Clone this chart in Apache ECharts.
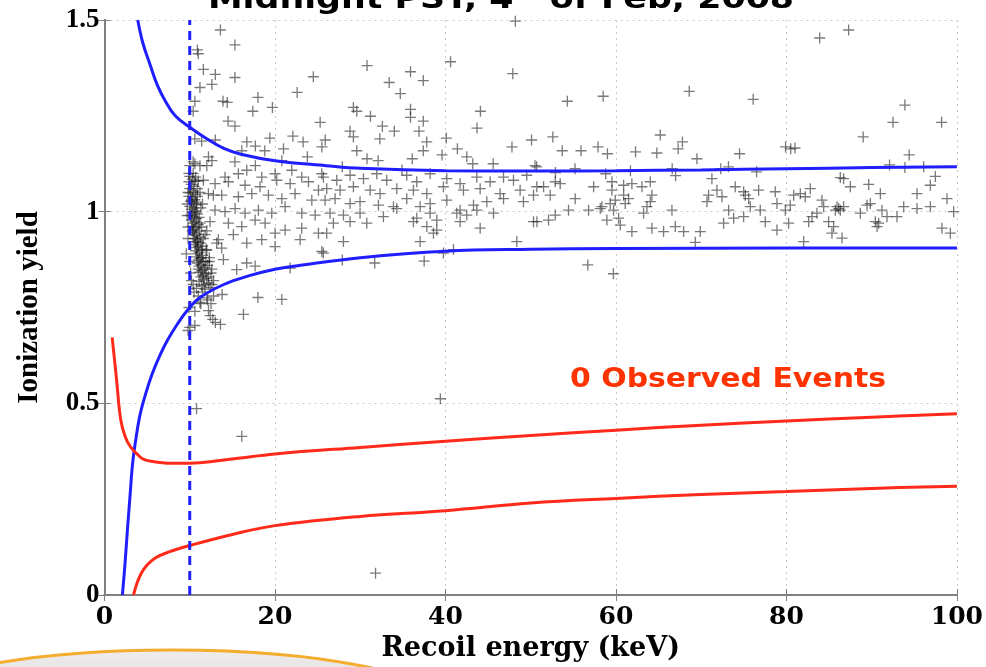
<!DOCTYPE html>
<html><head><meta charset="utf-8">
<script src="https://cdn.jsdelivr.net/npm/echarts@6/dist/echarts.min.js"></script>
<style>html,body{margin:0;padding:0;background:#fff;overflow:hidden}#c{width:986px;height:667px}</style>
</head><body><div id="c"></div>
<script>
// ---- data ----
const titleMain = 'Midnight PST, 4';
const titleSup = 'th';
const titleRest = ' of Feb, 2008';
const annotation = '0 Observed Events';
const xName = 'Recoil energy (keV)';
const yName = 'Ionization yield';
const xTicks = [0, 20, 40, 60, 80, 100];
const yTicks = [0, 0.5, 1, 1.5];
const thresholdX = 10;

const upperBlueX = [3.9,4.5,5.4,6.2,7.1,8.3,10,12,14,16,20,26,30,40,50,60,70,80,90,100];
const upperBlueY = [1.5,1.44,1.38,1.33,1.29,1.25,1.22,1.19,1.165,1.15,1.133,1.12,1.113,1.107,1.106,1.107,1.109,1.112,1.115,1.117];
const lowerBlueX = [2.1,2.4,2.7,3.0,3.3,3.7,4.2,4.9,5.6,6.5,7.4,8.5,9.7,11.2,14,17,20,23,30,40,50,60,80,100];
const lowerBlueY = [0,0.08,0.173,0.26,0.344,0.41,0.473,0.53,0.577,0.625,0.665,0.705,0.742,0.776,0.81,0.833,0.85,0.86,0.88,0.897,0.902,0.904,0.905,0.905];
const upperRedX = [0.9,1.4,1.9,2.4,3.0,3.8,4.6,6,7.4,10,15,20,30,40,50,60,70,80,90,100];
const upperRedY = [0.672,0.565,0.458,0.415,0.388,0.368,0.354,0.347,0.344,0.344,0.355,0.368,0.385,0.401,0.416,0.43,0.443,0.454,0.464,0.473];
const lowerRedX = [3.4,3.8,4.3,5,6,7.4,10,15,20,30,40,50,60,70,80,90,100];
const lowerRedY = [0,0.03,0.056,0.078,0.097,0.111,0.129,0.158,0.181,0.205,0.22,0.24,0.252,0.262,0.27,0.278,0.284];

// events just above threshold: dense band near 10-12 keV
const bandEvents = [
[10.0,1.092],[10.3,1.085],[9.9,1.078],[10.2,1.071],[10.5,1.066],[10.0,1.060],[10.4,1.054],[10.1,1.049],[10.7,1.045],[9.9,1.040],
[10.3,1.036],[10.6,1.031],[10.1,1.027],[10.4,1.022],[10.8,1.018],[10.0,1.014],[10.5,1.010],[10.2,1.006],[10.7,1.002],[10.3,0.998],
[10.9,0.994],[10.1,0.990],[10.5,0.986],[10.8,0.982],[10.2,0.978],[10.6,0.974],[10.4,0.970],[11.0,0.966],[10.3,0.962],[10.7,0.958],
[10.5,0.954],[11.1,0.950],[10.4,0.946],[10.8,0.942],[10.6,0.938],[11.2,0.934],[10.5,0.930],[10.9,0.926],[10.7,0.922],[11.3,0.918],
[10.6,0.914],[11.0,0.910],[10.8,0.906],[11.4,0.902],[10.7,0.898],[11.1,0.894],[10.9,0.890],[11.5,0.886],[10.8,0.882],[11.2,0.878],
[11.0,0.874],[11.6,0.870],[10.9,0.866],[11.3,0.862],[11.1,0.858],[11.8,0.854],[11.0,0.850],[11.4,0.846],[11.2,0.842],[11.9,0.838],
[11.5,0.834],[11.3,0.830],[12.0,0.826],[11.6,0.822],[11.1,0.818],[12.2,0.814],[11.7,0.810],[11.4,0.806],[12.4,0.802],[11.8,0.798],
[10.2,1.03],[10.6,1.0],[10.3,0.95],[10.9,0.92],[11.4,0.88],[11.7,0.85],[12.1,0.86],[12.5,0.84],[12.3,0.88],[11.9,0.9],
[11.6,0.93],[11.2,0.97],[10.9,1.04],[11.3,1.01],[12.0,0.95],[12.6,0.81],[12.8,0.78],[11.0,0.78],[10.5,0.79],[10.2,0.82],
[9.8,0.96],[9.7,1.02],[9.6,0.89],[12.1,0.77],[12.5,0.76],[10.0,1.12],[10.4,1.13],[9.9,1.10],[11.6,1.082],[12.77,1.043],
[12.38,0.974],[13.16,0.918],[13.75,0.905],
[10.6,1.08],[10.9,1.06],[11.2,1.05],[10.8,1.025],[11.5,1.02],[11.1,0.985],[11.4,0.96],[11.8,0.94],[11.5,0.91],[12.0,0.9],
[12.3,0.87],[11.9,0.87],[12.6,0.85],[12.2,0.83],[12.8,0.82],[10.4,1.1],[10.7,1.09],[11.0,1.08],[9.8,1.05],[9.7,0.99],
[9.8,0.93],[10.0,0.87],[10.1,0.84],[10.4,0.81],[10.8,0.8],[11.5,0.79],[12.0,0.775],[11.3,0.76],[9.9,0.75],[10.6,0.74]
];

const leftEvents = [
[13.6,1.474],[15.3,1.435],[10.9,1.422],[11.0,1.412],[11.6,1.371],[13.0,1.358],[12.6,1.332],[15.3,1.35],[11.2,1.324],[24.5,1.352],
[22.6,1.311],[18.0,1.298],[13.9,1.288],[14.4,1.285],[10.6,1.288],[10.4,1.262],[17.4,1.262],[19.7,1.272],[14.5,1.236],[15.3,1.223],
[25.3,1.233],[10.6,1.19],[11.4,1.184],[13.0,1.187],[16.7,1.182],[17.7,1.171],[19.4,1.192],[21.0,1.164],[22.1,1.197],[23.3,1.182],
[25.5,1.169],[18.8,1.159],[16.1,1.159],[12.2,1.143],[12.6,1.133],[15.3,1.13],[17.7,1.12],[10.6,1.125],[11.2,1.12],[12.0,1.12],
[23.8,1.143],[20.8,1.133],
[14.14,1.090],[15.71,1.099],[16.69,1.108],[18.45,1.090],[20.01,1.099],[21.97,1.108],[23.14,1.090],[25.49,1.099],[12.97,1.073],[14.54,1.078],
[16.49,1.069],[18.25,1.065],[20.21,1.082],[21.78,1.073],[23.93,1.078],[25.10,1.056],[12.19,1.047],[13.75,1.043],[15.71,1.039],[17.28,1.047],
[19.23,1.043],[20.80,1.034],[22.36,1.047],[24.32,1.030],[12.97,1.004],[14.14,1.000],[15.32,1.008],[16.49,0.996],[18.06,1.004],[19.62,0.996],
[21.19,1.013],[23.14,0.996],[24.71,0.991],[14.54,0.970],[16.10,0.961],[17.67,0.978],[18.84,0.970],[20.01,0.944],[21.19,0.952],[23.14,0.957],
[25.10,0.944],[13.36,0.927],[15.12,0.940],[16.69,0.918],[18.45,0.927],[20.01,0.909],[22.95,0.927],[25.49,0.896],[13.95,0.875],[15.51,0.849],
[16.69,0.866],[17.67,0.858],[21.78,0.853],
[13.8,0.784],[18.0,0.776],[20.8,0.771],[16.3,0.732],[12.2,0.742],[12.7,0.719],[13.6,0.706],[10.6,0.703],[10.0,0.698],[11.2,0.763],
[12.4,0.729],[13.0,0.711],[9.8,0.69],[10.8,0.486],[16.1,0.414],[31.8,0.057]
];

const midEvents = [
[48.2,1.497],[40.6,1.391],[47.9,1.36],[30.8,1.381],[35.9,1.365],[37.4,1.342],[33.4,1.337],[34.7,1.308],[29.2,1.272],[29.6,1.262],
[31.2,1.249],[35.9,1.267],[35.9,1.246],[37.4,1.236],[32.6,1.223],[34.0,1.21],[28.8,1.21],[29.2,1.195],[32.3,1.19],[36.9,1.21],
[37.8,1.182],[44.1,1.262],[43.7,1.218],[40.1,1.192],[47.8,1.169],[50.1,1.187],[25.9,1.187],[29.6,1.159],[37.4,1.159],[39.6,1.148],
[41.4,1.164],[42.5,1.143],[30.8,1.138],[32.1,1.133],[36.1,1.138],[43.2,1.125],[45.6,1.125],[50.5,1.12],[27.9,1.117],[34.9,1.109],
[27.9,0.874],[31.7,0.866],[37.5,0.871],[39.4,0.512],
[25.68,1.090],[27.25,1.082],[28.81,1.095],[30.38,1.086],[31.94,1.099],[33.11,1.082],[35.46,1.095],[36.63,1.078],[38.20,1.099],[40.16,1.086],
[41.72,1.073],[43.68,1.090],[45.24,1.078],[46.81,1.090],[47.98,1.082],[49.54,1.095],[50.72,1.065],[26.07,1.060],[27.64,1.056],[29.20,1.065],
[31.16,1.056],[32.33,1.047],[34.29,1.060],[36.24,1.056],[37.81,1.047],[39.76,1.065],[42.11,1.056],[44.07,1.060],[46.41,1.047],[48.76,1.056],
[50.33,1.043],[25.88,1.030],[27.05,1.034],[28.81,1.021],[29.98,1.026],[32.14,1.017],[33.90,1.013],[35.46,1.034],[37.03,1.013],[38.20,1.021],
[40.16,1.030],[41.72,1.004],[43.29,1.017],[44.85,1.026],[46.81,1.034],[49.15,1.026],[26.46,0.996],[28.03,0.991],[29.98,0.996],[32.72,0.987],
[34.29,1.008],[36.63,0.983],[38.20,0.996],[38.98,0.978],[41.33,0.996],[42.50,0.991],[43.68,1.004],[45.63,0.996],[50.33,0.974],[26.85,0.970],
[28.81,0.974],[30.77,0.970],[36.24,0.974],[37.81,0.961],[38.98,0.952],[41.72,0.974],[44.07,0.957],[26.07,0.944],[28.03,0.922],[25.68,0.892],
[37.03,0.922],[38.59,0.944],[48.37,0.922],[40.94,0.901],[39.76,0.892]
];

const rightEvents = [
[54.3,1.288],[58.5,1.301],[68.6,1.314],[76.1,1.293],[52.6,1.195],[53.7,1.159],[55.9,1.159],[57.9,1.169],[59.0,1.151],[62.3,1.156],
[64.8,1.153],[65.2,1.2],[67.8,1.182],[67.3,1.164],[69.5,1.138],[74.5,1.151],[50.7,1.117],[52.9,1.102],[55.2,1.112],[58.8,1.099],
[61.7,1.107],[66.6,1.112],[67.0,1.094],[72.3,1.112],[73.2,1.117],[56.7,0.861],[59.7,0.838],
[83.9,1.453],[87.3,1.474],[93.9,1.278],[92.5,1.233],[98.2,1.233],[89.0,1.195],[79.9,1.169],[80.5,1.164],[81.0,1.166],[94.4,1.148],
[92.1,1.122],[93.9,1.115],[96.1,1.117],[76.5,1.104],
[51.51,1.065],[52.88,1.078],[53.46,1.073],[52.29,1.043],[55.22,1.034],[57.38,1.065],[59.53,1.078],[60.90,1.069],[61.87,1.073],[63.05,1.065],
[64.03,1.078],[59.53,1.056],[60.90,1.043],[61.48,1.034],[64.22,1.043],[64.03,1.026],[63.64,1.013],[63.24,0.996],[66.57,1.004],[61.09,1.021],
[59.92,1.030],[59.33,1.021],[58.35,1.013],[58.16,1.008],[56.79,1.004],[54.44,1.004],[52.88,0.991],[52.09,0.978],[50.73,0.974],[59.72,1.004],
[60.31,0.983],[58.94,0.978],[60.51,0.965],[61.87,0.948],[64.22,0.957],[65.59,0.948],[66.96,0.961],[67.94,0.948],[69.89,0.948],[69.31,0.920],
[71.26,1.086],[71.85,1.056],[70.87,1.043],[70.68,1.026],[72.44,1.039],[74.00,1.065],[74.98,1.052],[75.57,1.034],[73.22,1.004],[73.81,0.983],
[74.98,0.987],[72.63,0.970],[75.18,1.043],
[86.32,1.089],[86.71,1.086],[87.50,1.065],[89.65,1.071],[97.47,1.092],[96.88,1.069],[95.32,1.047],[76.74,1.056],[78.69,1.052],[80.85,1.043],
[81.63,1.047],[82.80,1.060],[82.21,1.039],[91.02,1.047],[98.84,1.034],[75.76,1.013],[76.93,1.004],[78.89,1.021],[80.45,1.017],[79.87,1.004],
[84.17,1.030],[84.37,1.013],[83.58,0.996],[83.00,0.987],[86.13,1.008],[86.71,1.013],[85.74,1.004],[88.67,0.996],[89.84,1.021],[89.45,1.017],
[91.21,1.004],[91.80,0.987],[93.76,1.013],[92.97,0.987],[95.32,1.008],[96.88,1.013],[77.52,0.974],[78.89,0.952],[80.26,0.970],[82.61,0.974],
[84.95,0.974],[85.54,0.961],[85.34,0.944],[86.52,0.931],[82.02,0.922],[90.82,0.970],[90.63,0.961],[98.25,0.957],[99.23,0.944],[99.62,1.000],
[85.93,1.013],[86.32,1.004],[90.43,0.974]
];

// ---- chart ----
const chart = echarts.init(document.getElementById('c'), null, {renderer: 'canvas'});
const serif = '"Liberation Serif", "Times New Roman", serif';
const wideSerif = '"DejaVu Serif", "Liberation Serif", serif';
const sans = '"DejaVu Sans", Verdana, sans-serif';
const zip = (xs, ys) => xs.map((x, i) => [x, ys[i]]);
const cross = 'path://M4.4,0h1.2v10h-1.2zM0,4.4h10v1.2h-10z';

const frameAxis = {
  min: 0, axisLine: {show: true, lineStyle: {color: '#808080', width: 2}},
  axisTick: {show: true, inside: true, length: 6, lineStyle: {color: '#808080', width: 1}},
  axisLabel: {show: false}, splitLine: {show: false}
};

const lineSeries = (name, xs, ys, color) => ({
  name, type: 'line', data: zip(xs, ys), showSymbol: false, symbol: 'none',
  smooth: 0.4, z: 5,
  lineStyle: {color, width: 3}
});

const scatterSeries = (name, data) => ({
  name, type: 'scatter', data, symbol: cross, symbolSize: 11, z: 3,
  itemStyle: {color: 'rgba(25,25,25,0.72)'}, silent: true
});

chart.setOption({
  animation: false,
  backgroundColor: '#ffffff',
  grid: {left: 104.5, right: 29, top: 20, bottom: 67},
  xAxis: [{
    type: 'value', min: xTicks[0], max: xTicks[xTicks.length - 1], interval: xTicks[1] - xTicks[0],
    name: xName, nameLocation: 'middle', nameGap: 40,
    nameTextStyle: {fontFamily: wideSerif, fontWeight: 'bold', fontSize: 27, color: '#000'},
    axisLine: {show: true, onZero: false, lineStyle: {color: '#808080', width: 2}},
    axisTick: {show: true, inside: true, length: 6, lineStyle: {color: '#808080'}},
    axisLabel: {fontFamily: wideSerif, fontWeight: 'bold', fontSize: 25, color: '#000', margin: 10},
    splitLine: {show: true, lineStyle: {color: '#c8c8c8', type: [2, 4], width: 1}}
  }, Object.assign({}, frameAxis, {type: 'value', position: 'top', max: 100, interval: 20})],
  yAxis: [{
    type: 'value', min: yTicks[0], max: yTicks[yTicks.length - 1], interval: yTicks[1] - yTicks[0],
    name: yName, nameLocation: 'middle', nameGap: 60, nameRotate: 90,
    nameTextStyle: {fontFamily: serif, fontWeight: 'bold', fontSize: 29, color: '#000'},
    axisLine: {show: true, onZero: false, lineStyle: {color: '#808080', width: 2}},
    axisTick: {show: true, inside: true, length: 6, lineStyle: {color: '#808080'}},
    axisLabel: {fontFamily: serif, fontWeight: 'bold', fontSize: 27, color: '#000', margin: 5},
    splitLine: {show: true, lineStyle: {color: '#c8c8c8', type: [2, 4], width: 1}}
  }, Object.assign({}, frameAxis, {type: 'value', position: 'right', max: 1.5, interval: 0.5})],
  series: [
    scatterSeries('band', bandEvents),
    scatterSeries('left', leftEvents),
    scatterSeries('mid', midEvents),
    scatterSeries('right', rightEvents),
    lineSeries('upperBlue', upperBlueX, upperBlueY, '#1e1eff'),
    lineSeries('lowerBlue', lowerBlueX, lowerBlueY, '#1e1eff'),
    lineSeries('upperRed', upperRedX, upperRedY, '#ff2a1a'),
    lineSeries('lowerRed', lowerRedX, lowerRedY, '#ff2a1a'),
    {
      name: 'threshold', type: 'line', data: [[thresholdX, yTicks[0]], [thresholdX, yTicks[yTicks.length - 1]]],
      showSymbol: false, symbol: 'none', z: 6,
      lineStyle: {color: '#2020ff', width: 3, type: [9, 6]}
    }
  ],
  graphic: [
    {type: 'ellipse', shape: {cx: 172, cy: 710, rx: 280, ry: 60}, z: -1,
     style: {fill: new echarts.graphic.LinearGradient(0, 0, 0, 1, [{offset: 0, color: '#efeded'}, {offset: 1, color: '#bdb9b9'}]),
             stroke: '#f4ad2e', lineWidth: 3}},
    {type: 'text', x: 501, y: -17, z: 10, scaleX: 1.2,
     style: {text: '{a|' + titleMain + '}{b|' + titleSup + '}{a|' + titleRest + '}', align: 'center', verticalAlign: 'top',
       rich: {
         a: {fontFamily: sans, fontWeight: 'bold', fontSize: 29, fill: '#000', lineHeight: 34},
         b: {fontFamily: sans, fontWeight: 'bold', fontSize: 17, fill: '#000', verticalAlign: 'top', lineHeight: 34}
       }}},
    {type: 'text', x: 728, y: 380, z: 10, scaleX: 1.15,
     style: {text: annotation, align: 'center', verticalAlign: 'middle',
       font: 'bold 26px "DejaVu Sans", Verdana, sans-serif', fill: '#ff3300'}}
  ]
});
</script>
</body></html>
